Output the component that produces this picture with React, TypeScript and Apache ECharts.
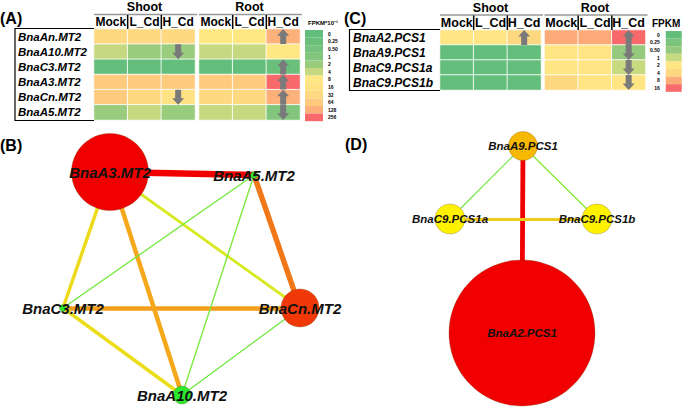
import React, { useEffect, useRef } from 'react';
import * as echarts from 'echarts';

const FONT = '"Liberation Sans", Arial, Helvetica, sans-serif';

// ---------- Panel A: MT2 expression (FPKM*10^-1) ----------
const conditions = ['Mock', 'L_Cd', 'H_Cd'];
const mtGenes = ['BnaAn.MT2', 'BnaA10.MT2', 'BnaC3.MT2', 'BnaA3.MT2', 'BnaCn.MT2', 'BnaA5.MT2'];
const mtShoot = [
  [40, 38, 60],
  [5, 3, 3],
  [0.1, 0.1, 0.1],
  [80, 80, 80],
  [75, 45, 20],
  [2.8, 5, 3],
];
const mtRoot = [
  [10, 9, 150],
  [5, 5, 10],
  [0.1, 0.1, 0.3],
  [80, 80, 300],
  [40, 40, 150],
  [5, 5, 1.2],
];
const mtShootArrows = [['BnaA10.MT2', 'down'], ['BnaCn.MT2', 'down']];
const mtRootArrows = [['BnaAn.MT2', 'up'], ['BnaC3.MT2', 'up'], ['BnaA3.MT2', 'up'], ['BnaCn.MT2', 'up'], ['BnaA5.MT2', 'down']];
const mtLegendTicks = [0, 0.25, 0.5, 1, 2, 4, 8, 16, 32, 64, 128, 256];
const mtLegendLabels = ['0', '0.25', '0.50', '1', '2', '4', '8', '16', '32', '64', '128', '256'];
const mtLegendColors = ['#63BE7B', '#6AC07B', '#74C27C', '#82C67D', '#9ACC7E', '#C6D980', '#FFE884', '#FFE283', '#FED981', '#FDCA7E', '#FCB07A', '#F8696B'];

// ---------- Panel C: PCS1 expression (FPKM) ----------
const pcsGenes = ['BnaA2.PCS1', 'BnaA9.PCS1', 'BnaC9.PCS1a', 'BnaC9.PCS1b'];
const pcsShoot = [
  [2.5, 2.5, 5],
  [0.1, 0.1, 0.1],
  [0.1, 0.1, 0.1],
  [0.1, 0.1, 0.1],
];
const pcsRoot = [
  [10, 12, 20],
  [3, 3, 0.7],
  [3, 3, 1.5],
  [5, 3, 2.5],
];
const pcsShootArrows = [['BnaA2.PCS1', 'up']];
const pcsRootArrows = [['BnaA2.PCS1', 'up'], ['BnaA9.PCS1', 'down'], ['BnaC9.PCS1a', 'down'], ['BnaC9.PCS1b', 'down']];
const pcsLegendTicks = [0, 0.25, 0.5, 1, 2, 4, 8, 16];
const pcsLegendLabels = ['0', '0.25', '0.50', '1', '2', '4', '8', '16'];
const pcsLegendColors = ['#63BE7B', '#79C37C', '#95CA7E', '#C8DA80', '#FFE583', '#FED880', '#FCAA77', '#F8696B'];

// ---------- Panel B: MT2 co-expression network ----------
const mtNodes = ['BnaA3.MT2', 'BnaA5.MT2', 'BnaCn.MT2', 'BnaA10.MT2', 'BnaC3.MT2'];
const mtNodeLayoutX = [110, 254, 300, 182, 63];
const mtNodeLayoutY = [42, 45, 178, 265, 178];
const mtNodeValue = [77, 7, 38, 18, 7];
const mtNodeScore = [1.0, 0, 0.9, 0, 0];
const mtEdgeSource = ['BnaA3.MT2', 'BnaA5.MT2', 'BnaC3.MT2', 'BnaA3.MT2', 'BnaA3.MT2', 'BnaC3.MT2', 'BnaA3.MT2', 'BnaA5.MT2', 'BnaA5.MT2', 'BnaCn.MT2'];
const mtEdgeTarget = ['BnaA5.MT2', 'BnaCn.MT2', 'BnaCn.MT2', 'BnaA10.MT2', 'BnaC3.MT2', 'BnaA10.MT2', 'BnaCn.MT2', 'BnaC3.MT2', 'BnaA10.MT2', 'BnaA10.MT2'];
const mtEdgeWeight = [1.0, 0.8, 0.66, 0.63, 0.45, 0.44, 0.33, 0.05, 0.06, 0.03];

// ---------- Panel D: PCS1 co-expression network ----------
const pcsNodes = ['BnaA9.PCS1', 'BnaC9.PCS1a', 'BnaC9.PCS1b', 'BnaA2.PCS1'];
const pcsNodeLayoutX = [183, 110, 257, 182];
const pcsNodeLayoutY = [46, 119, 119, 233];
const pcsNodeValue = [29, 30, 30, 146];
const pcsNodeScore = [0.6, 0.4, 0.4, 1.0];
const pcsEdgeSource = ['BnaA9.PCS1', 'BnaC9.PCS1a', 'BnaA9.PCS1', 'BnaA9.PCS1'];
const pcsEdgeTarget = ['BnaA2.PCS1', 'BnaC9.PCS1b', 'BnaC9.PCS1a', 'BnaC9.PCS1b'];
const pcsEdgeWeight = [1.0, 0.5, 0.04, 0.08];

const edgePalette = ['#5ce63c', '#b8ea2a', '#e8e81a', '#f6b01c', '#f07818', '#f00000'];
const nodePalette = ['#2ee82e', '#a8ec22', '#fff200', '#f6b800', '#f07010', '#f00000'];

const ARROW = 'path://M6,0L12,7L9,7L9,16L3,16L3,7L0,7Z';

function heatData(values: number[][]) {
  const out: any[] = [];
  values.forEach((row, i) => row.forEach((v, j) => out.push([j, i, v])));
  return out;
}

function arrowData(list: string[][], genes: string[]) {
  return list.map(([g, dir]) => ({
    value: [2, genes.indexOf(g)],
    symbolRotate: dir === 'down' ? 180 : 0,
  }));
}

function pieces(ticks: number[], labels: string[], colors: string[]) {
  return ticks.map((t, i) =>
    i < ticks.length - 1
      ? { gte: t, lt: ticks[i + 1], label: labels[i], color: colors[i] }
      : { gte: t, label: labels[i], color: colors[i] }
  );
}

export default function App() {
  const ref = useRef<HTMLDivElement>(null);
  useEffect(() => {
    if (!ref.current) return;
    const chart = echarts.init(ref.current, null, { renderer: 'svg' });

    const A = { sL: 94, rL: 199, top: 29, w: 101, h: 91, boxL: 15 };
    const C = { sL: 440, rL: 544.5, top: 30, w: 101, h: 60, boxL: 349.5 };

    const catX = (gi: number, fs: number) => ({
      type: 'category', gridIndex: gi, data: conditions, position: 'top',
      axisLine: { show: false }, axisTick: { show: false }, splitLine: { show: false },
      axisLabel: { show: true, interval: 0, margin: 1, fontSize: fs, fontWeight: 'bold', color: '#000', fontFamily: FONT },
    });
    const catY = (gi: number, genes: string[], showLabel: boolean, margin: number, fs: number) => ({
      type: 'category', gridIndex: gi, data: genes, inverse: true,
      axisLine: { show: false }, axisTick: { show: false }, splitLine: { show: false },
      axisLabel: { show: showLabel, interval: 0, align: 'left', margin, fontSize: fs, fontWeight: 'bold', fontStyle: 'italic', color: '#000', fontFamily: FONT },
    });
    const valX = (gi: number, max: number) => ({ type: 'value', gridIndex: gi, min: 0, max, show: false });
    const valY = (gi: number, max: number) => ({ type: 'value', gridIndex: gi, min: 0, max, inverse: true, show: false });

    const heat = (xi: number, data: number[][]) => ({
      type: 'heatmap', xAxisIndex: xi, yAxisIndex: xi, data: heatData(data),
      itemStyle: { borderColor: 'rgba(255,255,255,0.85)', borderWidth: 1 },
      emphasis: { disabled: true },
    });
    const arrows = (xi: number, list: string[][], genes: string[]) => ({
      type: 'scatter', xAxisIndex: xi, yAxisIndex: xi, z: 5,
      symbol: ARROW, symbolSize: [12, 15],
      itemStyle: { color: '#7a7a7a', opacity: 1 },
      data: arrowData(list, genes), silent: true,
    });

    const graph = (gi: number, nodes: string[], xs: number[], ys: number[], vals: number[], scores: number[],
      src: string[], tgt: string[], w: number[], widthScale: number, fs: number) => ({
      type: 'graph', coordinateSystem: 'cartesian2d', xAxisIndex: gi, yAxisIndex: gi,
      layout: 'none', roam: false, z: 3,
      data: nodes.map((n, i) => ({
        name: n, value: [xs[i], ys[i]], symbolSize: vals[i],
        itemStyle: { color: echarts.color.lerp(scores[i], nodePalette), borderColor: 'rgba(90,60,0,0.45)', borderWidth: 0.6 },
      })),
      links: src.map((s, i) => ({
        source: s, target: tgt[i],
        lineStyle: { color: echarts.color.lerp(w[i], edgePalette), width: 1 + widthScale * w[i], opacity: 1, curveness: 0 },
      })),
      label: { show: true, position: 'inside', fontSize: fs, fontWeight: 'bold', fontStyle: 'italic', color: '#111', fontFamily: FONT },
      emphasis: { disabled: true },
    });

    const t = (text: string, x: number, y: number, fs: number, align = 'left', extra: any = {}) => ({
      type: 'text', x, y, z: 10,
      style: { text, fontSize: fs, fontWeight: 'bold', fontFamily: FONT, fill: '#000', align, verticalAlign: 'middle', ...extra },
    });
    const ln = (x1: number, y1: number, x2: number, y2: number, stroke: string, lw: number) => ({
      type: 'line', z: 10, shape: { x1, y1, x2, y2 }, style: { stroke, lineWidth: lw },
    });

    const headers = (P: any, titleY: number) => {
      const els: any[] = [];
      [P.sL, P.rL].forEach((L: number, k: number) => {
        els.push(t(k === 0 ? 'Shoot' : 'Root', L + P.w / 2, titleY, 12.5, 'center'));
        els.push(ln(L, titleY + 7.5, L + P.w + 2, titleY + 7.5, '#999', 1.5));
        for (let c = 1; c < 3; c++) {
          const x = L + (P.w * c) / 3;
          els.push(ln(x, titleY + 8, x, P.top, '#000', 1.5));
        }
      });
      els.push({
        type: 'polyline', z: 10,
        shape: { points: [[P.sL, P.top - 0.5], [P.boxL, P.top - 0.5], [P.boxL, P.top + P.h + 0.5], [P.sL, P.top + P.h + 0.5]] },
        style: { stroke: '#000', lineWidth: 1.2, fill: null },
      });
      return els;
    };

    const option: any = {
      animation: false,
      backgroundColor: '#fff',
      grid: [
        { left: A.sL, top: A.top, width: A.w, height: A.h },
        { left: A.rL, top: A.top, width: A.w, height: A.h },
        { left: C.sL, top: C.top, width: C.w, height: C.h },
        { left: C.rL, top: C.top, width: C.w, height: C.h },
        { left: 0, top: 130, width: 340, height: 280 },
        { left: 340, top: 100, width: 345, height: 310 },
      ],
      xAxis: [catX(0, 12), catX(1, 12), catX(2, 12.5), catX(3, 12.5), valX(4, 340), valX(5, 345)],
      yAxis: [
        catY(0, mtGenes, true, A.sL - 18, 11.5), catY(1, mtGenes, false, 0, 11),
        catY(2, pcsGenes, true, C.sL - 353, 12), catY(3, pcsGenes, false, 0, 12),
        valY(4, 280), valY(5, 310),
      ],
      visualMap: [
        {
          type: 'piecewise', seriesIndex: [0, 1], left: 305, top: 30, padding: 0, orient: 'vertical', inverse: true,
          itemWidth: 18, itemHeight: 7.6, itemGap: 0, itemSymbol: 'rect', selectedMode: false, textGap: 5,
          textStyle: { fontSize: 5, fontWeight: 'bold', color: '#000', fontFamily: FONT },
          pieces: pieces(mtLegendTicks, mtLegendLabels, mtLegendColors),
        },
        {
          type: 'piecewise', seriesIndex: [2, 3], left: 650, top: 31, padding: 0, orient: 'vertical', inverse: true,
          itemWidth: 16, itemHeight: 7.6, itemGap: 0, itemSymbol: 'rect', selectedMode: false, textGap: 6,
          textStyle: { fontSize: 5, fontWeight: 'bold', color: '#000', fontFamily: FONT },
          pieces: pieces(pcsLegendTicks, pcsLegendLabels, pcsLegendColors),
        },
      ],
      series: [
        heat(0, mtShoot), heat(1, mtRoot), heat(2, pcsShoot), heat(3, pcsRoot),
        arrows(0, mtShootArrows, mtGenes), arrows(1, mtRootArrows, mtGenes),
        arrows(2, pcsShootArrows, pcsGenes), arrows(3, pcsRootArrows, pcsGenes),
        graph(4, mtNodes, mtNodeLayoutX, mtNodeLayoutY, mtNodeValue, mtNodeScore, mtEdgeSource, mtEdgeTarget, mtEdgeWeight, 5.5, 15),
        graph(5, pcsNodes, pcsNodeLayoutX, pcsNodeLayoutY, pcsNodeValue, pcsNodeScore, pcsEdgeSource, pcsEdgeTarget, pcsEdgeWeight, 3.8, 11.5),
      ],
      graphic: [
        t('(A)', 0, 18, 16),
        t('(C)', 344, 18, 16),
        t('(B)', 0, 145, 16),
        t('(D)', 345, 144, 16),
        t('FPKM*10⁻¹', 308, 23, 6),
        t('FPKM', 652, 23, 10),
        ...headers(A, 7),
        ...headers(C, 7.5),
      ],
    };
    chart.setOption(option);
    return () => chart.dispose();
  }, []);
  return <div ref={ref} style={{ position: 'fixed', left: 0, top: 0, width: 685, height: 410, background: '#fff' }} />;
}
